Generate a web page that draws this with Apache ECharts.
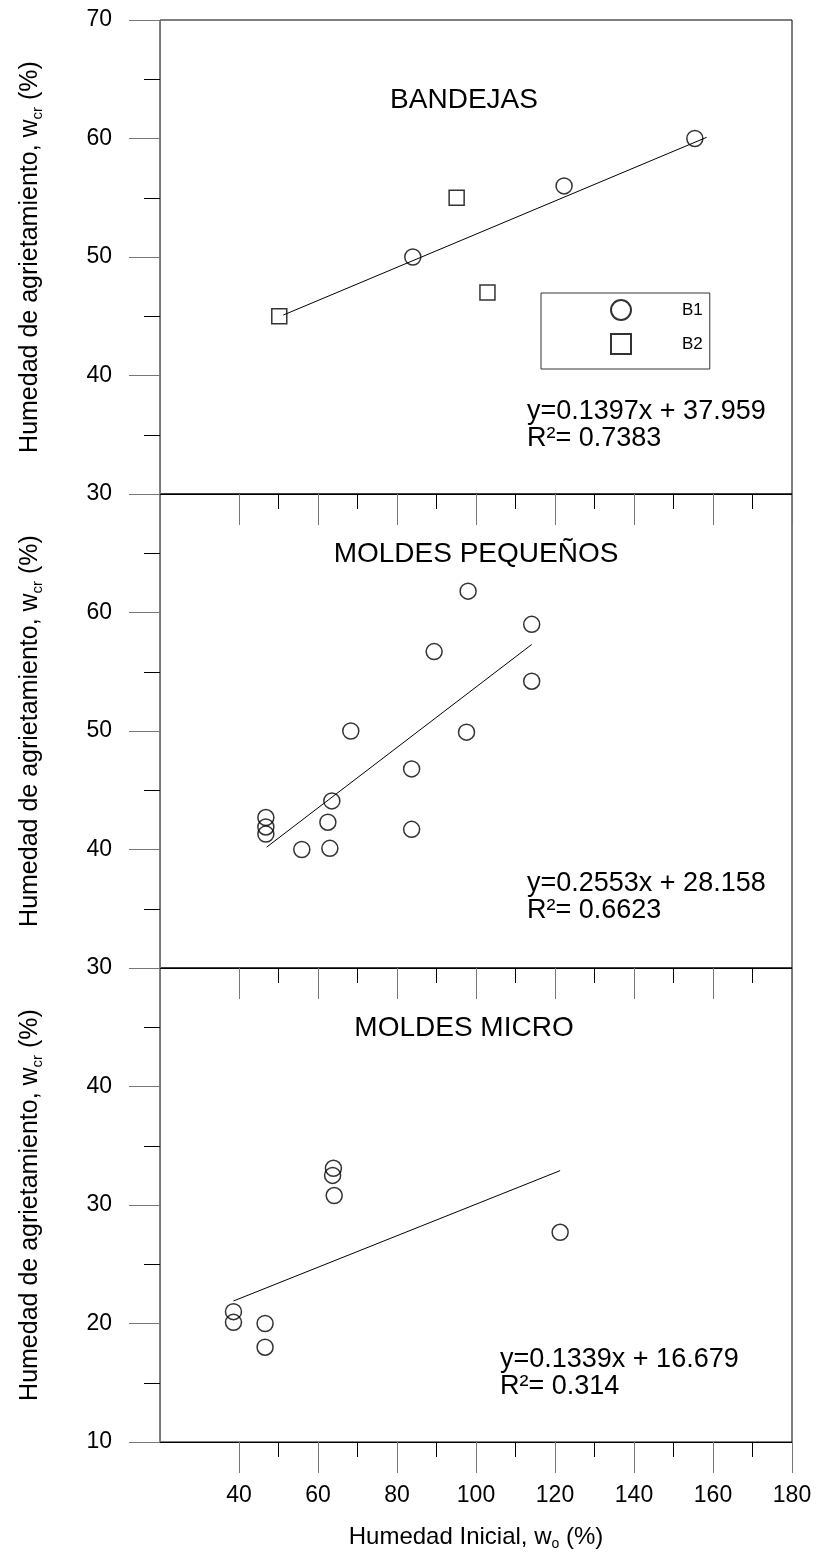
<!DOCTYPE html>
<html><head><meta charset="utf-8">
<script src="https://cdn.jsdelivr.net/npm/echarts@6/dist/echarts.min.js"></script>
<style>html,body{margin:0;padding:0;background:#fff}#c{width:818px;height:1564px}</style>
</head><body><div id="c"></div>
<script>
// ---- data ----
const xMajorTicks = [40, 60, 80, 100, 120, 140, 160, 180];
const xMinorTicks = [50, 70, 90, 110, 130, 150, 170];
const yRanges = [[30, 70], [30, 70], [10, 50]];
const titles = ['BANDEJAS', 'MOLDES PEQUEÑOS', 'MOLDES MICRO'];
const equations = [
  ['y=0.1397x + 37.959', 'R²= 0.7383'],
  ['y=0.2553x + 28.158', 'R²= 0.6623'],
  ['y=0.1339x + 16.679', 'R²= 0.314']
];
const bandejasB1 = [[84.0, 50.0], [122.3, 56.0], [155.4, 60.0]];
const bandejasB2 = [[50.2, 45.0], [95.1, 55.0], [102.9, 47.0]];
const bandejasFit = [[51.2, 45.1], [158.4, 60.1]];
const pequenos = [[98.0, 61.8], [114.1, 59.0], [89.4, 56.7], [114.1, 54.2], [68.3, 50.0], [97.6, 49.9],
  [83.7, 46.8], [63.5, 44.1], [46.8, 42.7], [46.8, 41.9], [46.8, 41.3], [62.5, 42.3], [83.7, 41.7],
  [55.9, 40.0], [63.0, 40.1]];
const pequenosFit = [[47.0, 40.2], [114.1, 57.3]];
const micro = [[63.9, 33.1], [63.7, 32.5], [64.1, 30.8], [121.3, 27.7], [38.6, 21.0], [38.6, 20.1],
  [46.6, 20.0], [46.6, 18.0]];
const microFit = [[38.6, 21.9], [121.3, 32.9]];

const FONT = 'Liberation Sans, Arial, sans-serif';
const gridTops = [20, 494, 968];
const GH = 474, GL = 160, GW = 632;

const chart = echarts.init(document.getElementById('c'), null, {renderer: 'canvas'});

const grids = gridTops.map(t => ({left: GL, top: t, width: GW, height: GH, show: true,
  borderColor: '#000', borderWidth: 1, backgroundColor: 'transparent', containLabel: false}));

const xNameRich = {
  a: {fontSize: 24, fontFamily: FONT, color: '#000', lineHeight: 28},
  b: {fontSize: 14, fontFamily: FONT, color: '#000', verticalAlign: 'bottom', lineHeight: 15}
};
const yNameRich = {
  a: {fontSize: 25, fontFamily: FONT, color: '#000', lineHeight: 29},
  b: {fontSize: 15, fontFamily: FONT, color: '#000', verticalAlign: 'bottom', lineHeight: 16}
};

const xAxes = [];
const yAxes = [];
for (let i = 0; i < 3; i++) {
  xAxes.push({
    type: 'value', gridIndex: i, min: 20, max: 180, interval: 20, position: 'bottom',
    axisLine: {show: true, onZero: false, lineStyle: {color: '#000', width: 1}},
    axisTick: {show: true, inside: false, length: 31, customValues: xMajorTicks, lineStyle: {color: '#777', width: 1}},
    axisLabel: {show: i === 2, customValues: xMajorTicks, margin: 42, fontSize: 23, color: '#000', fontFamily: FONT},
    splitLine: {show: false},
    name: i === 2 ? '{a|Humedad Inicial, w}{b|o}{a| (%)}' : '',
    nameLocation: 'middle', nameGap: 81,
    nameTextStyle: {rich: xNameRich}
  });
  xAxes.push({
    type: 'value', gridIndex: i, min: 20, max: 180, interval: 20, position: 'bottom',
    axisLine: {show: false},
    axisTick: {show: true, inside: false, length: 15, customValues: xMinorTicks, lineStyle: {color: '#000', width: 1}},
    axisLabel: {show: false}, splitLine: {show: false}
  });
  yAxes.push({
    type: 'value', gridIndex: i, min: yRanges[i][0], max: yRanges[i][1], interval: 10, position: 'left',
    axisLine: {show: true, onZero: false, lineStyle: {color: '#777', width: 1}},
    axisTick: {show: true, inside: false, length: 31, lineStyle: {color: '#777', width: 1}},
    minorTick: {show: true, splitNumber: 2, length: 16, lineStyle: {color: '#000', width: 1}},
    axisLabel: {margin: 48, fontSize: 23, color: '#000', fontFamily: FONT, showMaxLabel: i === 0},
    splitLine: {show: false}, minorSplitLine: {show: false},
    name: '{a|Humedad de agrietamiento, w}{b|cr}{a| (%)}',
    nameLocation: 'middle', nameGap: 115,
    nameTextStyle: {rich: yNameRich}
  });
}

const hollow = {color: 'rgba(255,255,255,0)', borderColor: '#000', borderWidth: 1.5};
const fitLine = (data, i) => ({type: 'line', xAxisIndex: 2 * i, yAxisIndex: i, data, symbol: 'none',
  lineStyle: {color: '#000', width: 1}, silent: true, z: 1});
const scat = (name, data, i, symbol, size) => ({type: 'scatter', name, xAxisIndex: 2 * i, yAxisIndex: i,
  data, symbol, symbolSize: size, itemStyle: hollow, z: 3});

const series = [
  fitLine(bandejasFit, 0),
  scat('B1', bandejasB1, 0, 'circle', 16),
  scat('B2', bandejasB2, 0, 'rect', 15),
  fitLine(pequenosFit, 1),
  scat('pequenos', pequenos, 1, 'circle', 16),
  fitLine(microFit, 2),
  scat('micro', micro, 2, 'circle', 16)
];

const titlePos = [[464, 100], [476, 554], [464, 1028]];
const eqPos = [[527, 412], [527, 884], [500, 1360]];
const graphics = [];
for (let i = 0; i < 3; i++) {
  graphics.push({type: 'text', x: titlePos[i][0], y: titlePos[i][1],
    style: {text: titles[i], font: '28px ' + FONT, fill: '#000', align: 'center', verticalAlign: 'middle'}});
  graphics.push({type: 'text', x: eqPos[i][0], y: eqPos[i][1],
    style: {text: equations[i][0], font: '27px ' + FONT, fill: '#000', align: 'left', verticalAlign: 'middle'}});
  graphics.push({type: 'text', x: eqPos[i][0], y: eqPos[i][1] + 27,
    style: {text: equations[i][1], font: '27px ' + FONT, fill: '#000', align: 'left', verticalAlign: 'middle'}});
}

chart.setOption({
  animation: false,
  backgroundColor: '#fff',
  grid: grids,
  xAxis: xAxes,
  yAxis: yAxes,
  legend: {data: ['B1', 'B2'], orient: 'vertical', left: 541, top: 293,
    padding: [6, 7, 14, 69], itemGap: 12, itemWidth: 20, itemHeight: 20,
    borderColor: '#333', borderWidth: 1, selectedMode: false,
    textStyle: {fontSize: 17, fontFamily: FONT, color: '#000', padding: [0, 0, 0, 46]}},
  series,
  graphic: graphics
});
</script>
</body></html>
